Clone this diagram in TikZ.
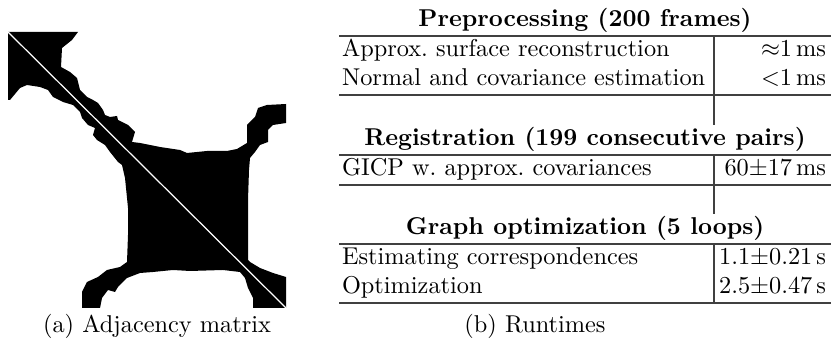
\documentclass[tikz,border=0pt]{standalone}
\usepackage{amsmath}
\usepackage{amssymb}
\usepackage{tikz}
\usetikzlibrary{positioning, calc}

\begin{document}
\begin{tikzpicture}[
    x=0.411pt, y=-0.411pt,
    txt/.style={inner sep=0pt, outer sep=0pt},
    lcell/.style={txt, anchor=base west},
    rcell/.style={txt, anchor=base east},
    head/.style={txt, anchor=base, font=\bfseries},
    capt/.style={txt, anchor=base},
    rul/.style={line width=0.45pt, black!75}]

  \useasboundingbox (0,0) rectangle (831,343);

  % ---- adjacency matrix (left) ----
  \fill[black] (8,32) -- (78,32) -- (72,40) -- (62,48) -- (61,67) -- (70,72)
    -- (77,78) -- (80,90) -- (87,97) -- (93,100) -- (98,103) -- (103,110)
    -- (105,115) -- (110,117) -- (117,116) -- (118,120) -- (128,125)
    -- (135,132) -- (132,142) -- (140,143) -- (160,147) -- (180,150)
    -- (187,153) -- (207,151) -- (227,151) -- (237,149) -- (247,143)
    -- (247,125) -- (255,117) -- (258,108) -- (267,105) -- (286,104)
    -- (286,123) -- (273,125) -- (268,130) -- (268,142) -- (260,145)
    -- (255,152) -- (250,158) -- (249,170) -- (248,200) -- (248,230)
    -- (248,260) -- (250,262) -- (260,268) -- (273,273) -- (286,277)
    -- (286,308) -- (253,308) -- (253,298) -- (248,288) -- (245,278)
    -- (240,272) -- (223,270) -- (190,271) -- (173,270) -- (153,272)
    -- (140,273) -- (127,278) -- (118,287) -- (115,292) -- (108,290)
    -- (102,298) -- (100,308) -- (82,308) -- (82,292) -- (87,282)
    -- (98,277) -- (107,270) -- (120,267) -- (127,262) -- (128,235)
    -- (128,208) -- (125,178) -- (122,165) -- (118,162) -- (110,152)
    -- (105,145) -- (97,140) -- (93,135) -- (95,128) -- (88,125)
    -- (82,118) -- (80,112) -- (73,105) -- (63,102) -- (53,97) -- (48,90)
    -- (40,87) -- (27,85) -- (20,88) -- (10,100) -- (8,100) -- cycle;
  \coordinate (m0) at (8,32);
  \coordinate (m1) at (286,308);
  \draw[white, line width=0.5pt] (m0) -- (m1);
  \node[capt] (capa) at (157,333) {(a) Adjacency matrix};

  % ---- runtimes table (right) ----
  \node[head] (pre) at (585,27) {Preprocessing (200 frames)};
  \node[lcell] (asr)  at (342,57) {Approx.\ surface reconstruction};
  \node[rcell] (asrt) at (826,57) {$\approx$1\,ms};
  \node[lcell] (nce)  at (342,86) {Normal and covariance estimation};
  \node[rcell] (ncet) at (826,86) {$<$1\,ms};

  \node[head] (reg) at (585,146) {Registration (199 consecutive pairs)};
  \node[lcell] (gicp)  at (342,176) {GICP w.\ approx.\ covariances};
  \node[rcell] (gicpt) at (826,176) {60$\pm$17\,ms};

  \node[head] (gopt) at (585,235) {Graph optimization (5 loops)};
  \node[lcell] (corr)  at (342,265) {Estimating correspondences};
  \node[rcell] (corrt) at (826,265) {1.1$\pm$0.21\,s};
  \node[lcell] (optm)  at (342,294) {Optimization};
  \node[rcell] (optmt) at (826,294) {2.5$\pm$0.47\,s};

  \node[capt] (capb) at (535,333) {(b) Runtimes};

  % rules
  \foreach \yy in {36,95,155,185,244,303}
    \draw[rul] (339,\yy) -- (831,\yy);
  \draw[rul] (714,36) -- (714,125);
  \draw[rul] (714,155) -- (714,214);
  \draw[rul] (714,244) -- (714,303);
\end{tikzpicture}
\end{document}
